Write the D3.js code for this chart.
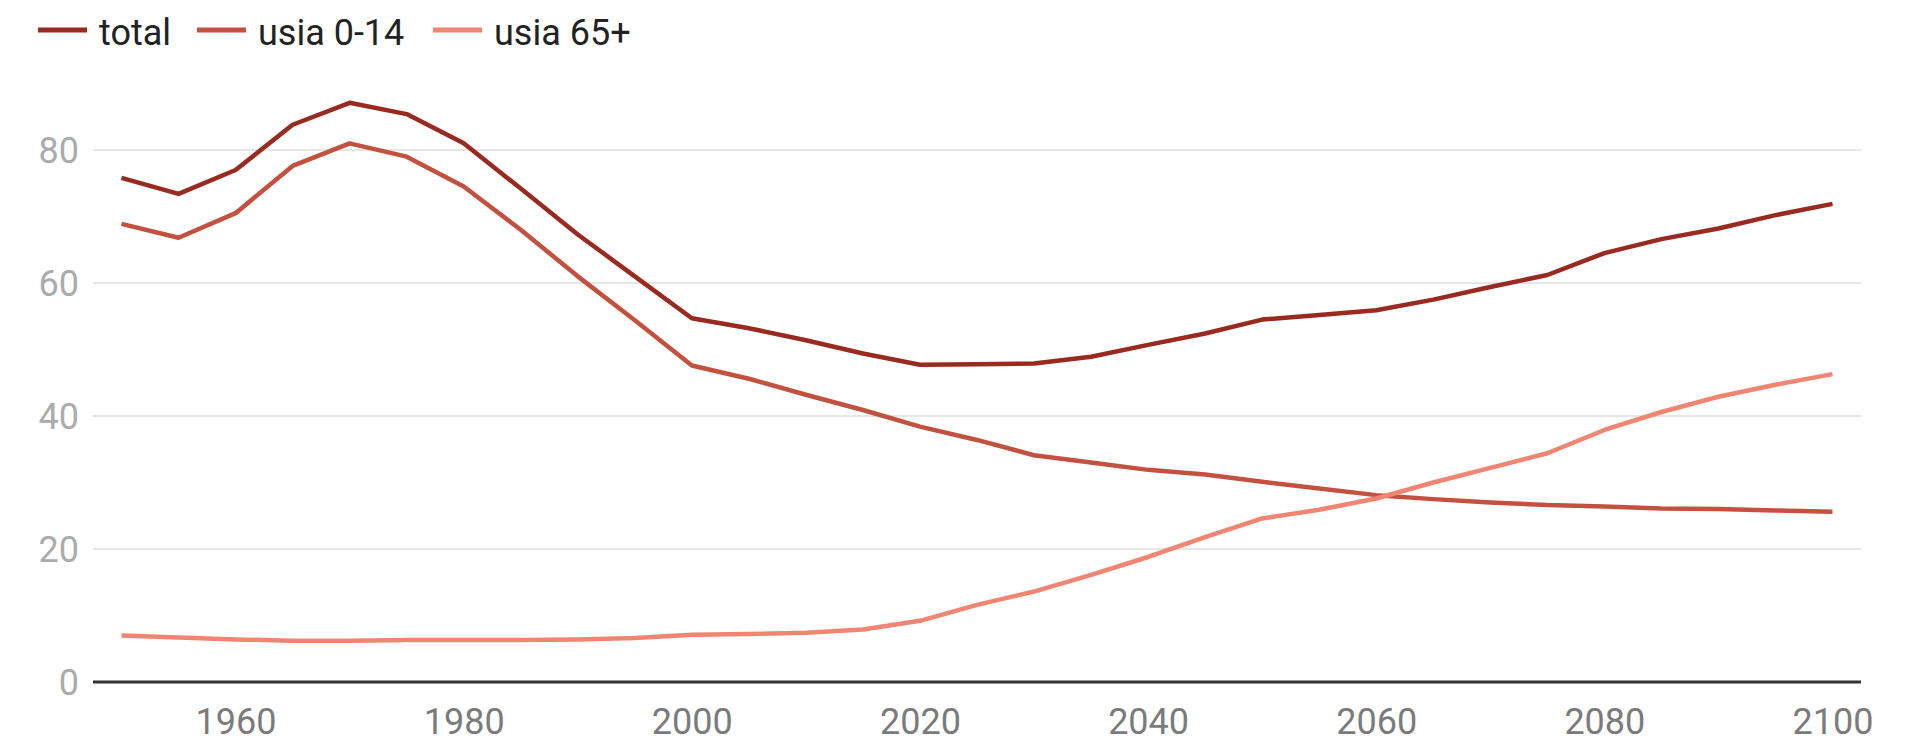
<!DOCTYPE html>
<html>
<head>
<meta charset="utf-8">
<script src="https://cdn.jsdelivr.net/npm/d3@7"></script>
<style>
  body { margin: 0; background: #fff; }
  svg { display: block; font-family: Roboto, "Noto Sans", sans-serif; }
</style>
</head>
<body>
<script>
const YEARS = [1950, 1955, 1960, 1965, 1970, 1975, 1980, 1985, 1990, 1995, 2000,
  2005, 2010, 2015, 2020, 2025, 2030, 2035, 2040, 2045, 2050, 2055, 2060,
  2065, 2070, 2075, 2080, 2085, 2090, 2095, 2100];

const TOTAL = [75.8, 73.4, 77.0, 83.8, 87.1, 85.4, 81.0, 74.2, 67.3, 61.0, 54.7,
  53.2, 51.4, 49.4, 47.7, 47.8, 47.9, 48.9, 50.7, 52.4, 54.5, 55.2, 55.9,
  57.5, 59.4, 61.2, 64.5, 66.6, 68.2, 70.2, 71.9];

const AGE_0_14 = [68.9, 66.8, 70.5, 77.6, 81.0, 79.0, 74.5, 68.0, 61.0, 54.4, 47.6,
  45.6, 43.2, 40.9, 38.4, 36.4, 34.1, 33.0, 31.9, 31.2, 30.1, 29.1, 28.1,
  27.5, 27.0, 26.6, 26.4, 26.1, 26.0, 25.8, 25.6];

const AGE_65 = [7.0, 6.7, 6.4, 6.2, 6.2, 6.3, 6.3, 6.3, 6.4, 6.6, 7.1,
  7.2, 7.4, 7.9, 9.2, 11.6, 13.6, 16.1, 18.8, 21.8, 24.6, 25.9, 27.6,
  30.0, 32.2, 34.4, 37.9, 40.6, 42.9, 44.7, 46.3];

const SERIES = ["total", "usia 0-14", "usia 65+"];
const Y_TICKS = [0, 20, 40, 60, 80];
const X_TICKS = [1960, 1980, 2000, 2020, 2040, 2060, 2080, 2100];

const WIDTH = 1909;
const HEIGHT = 738;
const COLORS = ["#982a1f", "#c3513f", "#f08672"];

const svg = d3.select("body").append("svg")
  .attr("width", WIDTH)
  .attr("height", HEIGHT);

const x = d3.scaleLinear().domain([1947.5, 2102.5]).range([93, 1861]);
const y = d3.scaleLinear().domain([0, 80]).range([682, 150]);

// gridlines
svg.append("g")
  .selectAll("line")
  .data(Y_TICKS.filter(d => d > 0))
  .enter()
  .append("line")
  .attr("x1", x.range()[0])
  .attr("x2", x.range()[1])
  .attr("y1", d => y(d))
  .attr("y2", d => y(d))
  .attr("stroke", "#e6e6e6")
  .attr("stroke-width", 2);

// y labels
svg.append("g")
  .selectAll("text")
  .data(Y_TICKS)
  .enter()
  .append("text")
  .attr("x", 79)
  .attr("y", d => y(d))
  .attr("dy", "0.36em")
  .attr("text-anchor", "end")
  .attr("font-size", 36)
  .attr("fill", "#ababab")
  .text(d => d);

// x axis labels
const xAxis = d3.axisBottom(x).tickValues(X_TICKS).tickFormat(d3.format("d")).tickSize(0);
const gx = svg.append("g")
  .attr("transform", "translate(0,682)")
  .call(xAxis);
gx.select(".domain").remove();
gx.selectAll("text")
  .attr("y", 26)
  .attr("dy", "0.71em")
  .attr("font-size", 36)
  .attr("font-family", "Roboto, sans-serif")
  .attr("fill", "#7b7b7b");

// lines
const rows = [TOTAL, AGE_0_14, AGE_65];
const line = d3.line()
  .x((d, i) => x(YEARS[i]))
  .y(d => y(d));

svg.append("g")
  .selectAll("path")
  .data(rows)
  .enter()
  .append("path")
  .attr("d", d => line(d))
  .attr("fill", "none")
  .attr("stroke", (d, i) => COLORS[i])
  .attr("stroke-width", 4.5)
  .attr("stroke-linejoin", "round");

// baseline
svg.append("line")
  .attr("x1", x.range()[0])
  .attr("x2", x.range()[1])
  .attr("y1", y(0))
  .attr("y2", y(0))
  .attr("stroke", "#333")
  .attr("stroke-width", 3);

// legend
const LEGEND_X = [38, 197, 433];
const legend = svg.append("g")
  .selectAll("g")
  .data(SERIES)
  .enter()
  .append("g")
  .attr("transform", (d, i) => `translate(${LEGEND_X[i]},30)`);

legend.append("line")
  .attr("x1", 0)
  .attr("x2", 49)
  .attr("stroke", (d, i) => COLORS[i])
  .attr("stroke-width", 5);

legend.append("text")
  .attr("x", 61)
  .attr("y", 15)
  .attr("font-size", 36)
  .attr("fill", "#222")
  .text(d => d);
</script>
</body>
</html>
